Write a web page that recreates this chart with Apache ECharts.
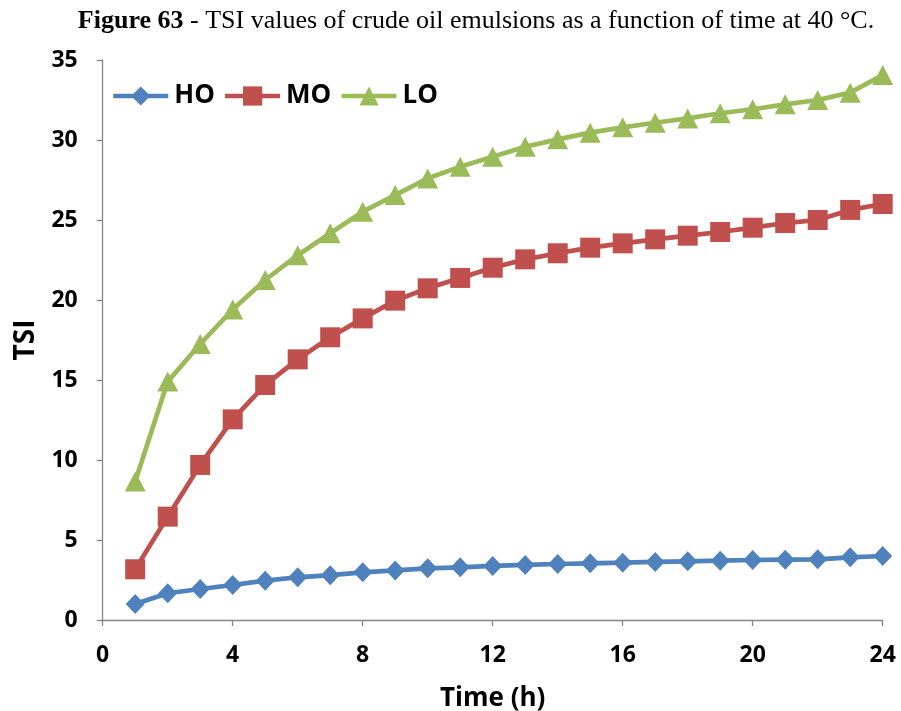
<!DOCTYPE html>
<html>
<head>
<meta charset="utf-8">
<script src="https://cdn.jsdelivr.net/npm/echarts@6/dist/echarts.min.js"></script>
<style>
  html, body { margin: 0; padding: 0; background: #fff; }
  #chart { width: 901px; height: 711px; }
</style>
</head>
<body>
<div id="chart"></div>
<script>
// Time in hours
const hours = [1, 2, 3, 4, 5, 6, 7, 8, 9, 10, 11, 12, 13, 14, 15, 16, 17, 18, 19, 20, 21, 22, 23, 24];
// TSI per emulsion
const tsiHO = [1.0, 1.67, 1.94, 2.19, 2.46, 2.67, 2.8, 2.98, 3.1, 3.23, 3.29, 3.38, 3.44, 3.5, 3.54, 3.58, 3.63, 3.67, 3.71, 3.75, 3.77, 3.79, 3.92, 4.0];
const tsiMO = [3.17, 6.46, 9.69, 12.54, 14.69, 16.29, 17.67, 18.85, 19.96, 20.73, 21.38, 22.02, 22.54, 22.92, 23.27, 23.54, 23.79, 24.02, 24.25, 24.52, 24.81, 25.0, 25.63, 26.0];
const tsiLO = [8.65, 14.9, 17.25, 19.4, 21.25, 22.8, 24.17, 25.52, 26.56, 27.6, 28.33, 28.95, 29.58, 30.04, 30.46, 30.79, 31.08, 31.35, 31.67, 31.92, 32.23, 32.5, 32.96, 34.06];
const xTicks = [0, 4, 8, 12, 16, 20, 24];
const yTicks = [0, 5, 10, 15, 20, 25, 30, 35];

const axisFont = '"Open Sans", "DejaVu Sans", sans-serif';
const serifFont = '"Liberation Serif", "Times New Roman", serif';
const axisGray = '#868686';

function pairs(ys) { return hours.map((h, i) => [h, ys[i]]); }

const chart = echarts.init(document.getElementById('chart'), null, { renderer: 'canvas' });

chart.setOption({
  animation: false,
  backgroundColor: '#ffffff',
  title: {
    text: '{b|Figure 63} - TSI values of crude oil emulsions as a function of time at 40 °C.',
    left: 471,
    textAlign: 'center',
    top: 3,
    textStyle: {
      fontFamily: serifFont,
      fontSize: 26,
      fontWeight: 'normal',
      color: '#000',
      rich: {
        b: { fontFamily: serifFont, fontSize: 26, fontWeight: 'bold', color: '#000' }
      }
    }
  },
  legend: {
    left: 106,
    top: 78,
    itemWidth: 55,
    itemHeight: 24,
    itemGap: 8,
    lineStyle: { width: 4.5 },
    textStyle: {
      fontFamily: axisFont,
      fontSize: 26,
      fontWeight: 'bold',
      color: '#000',
      padding: [0, 0, 0, 1]
    },
    data: ['HO', 'MO', 'LO']
  },
  grid: {
    left: 102.7, right: 18.3, top: 60, bottom: 91,
    containLabel: false,
    outerBoundsMode: 'none'
  },
  xAxis: {
    type: 'value',
    min: xTicks[0],
    max: xTicks[xTicks.length - 1],
    interval: 4,
    name: 'Time (h)',
    nameLocation: 'middle',
    nameGap: 66,
    nameTextStyle: { fontFamily: axisFont, fontSize: 26, fontWeight: 'bold', color: '#000' },
    axisLine: { lineStyle: { color: axisGray, width: 1.3 } },
    axisTick: { show: true, inside: false, length: 6, lineStyle: { color: axisGray, width: 1.3 } },
    axisLabel: {
      fontFamily: axisFont, fontSize: 23, fontWeight: 'bold', color: '#000', margin: 24,
      formatter: v => (xTicks.indexOf(v) >= 0 ? String(v) : '')
    },
    splitLine: { show: false }
  },
  yAxis: {
    type: 'value',
    min: yTicks[0],
    max: yTicks[yTicks.length - 1],
    interval: 5,
    name: 'TSI',
    nameLocation: 'middle',
    nameGap: 62,
    nameRotate: 90,
    nameTextStyle: { fontFamily: axisFont, fontSize: 28, fontWeight: 'bold', color: '#000' },
    axisLine: { show: true, lineStyle: { color: axisGray, width: 1.3 } },
    axisTick: { show: true, inside: false, length: 6, lineStyle: { color: axisGray, width: 1.3 } },
    axisLabel: {
      fontFamily: axisFont, fontSize: 23, fontWeight: 'bold', color: '#000', margin: 25,
      formatter: v => (yTicks.indexOf(v) >= 0 ? String(v) : '')
    },
    splitLine: { show: false }
  },
  series: [
    {
      name: 'HO', type: 'line', data: pairs(tsiHO),
      symbol: 'diamond', symbolSize: [19, 20],
      color: '#4F81BD',
      lineStyle: { width: 4.7, color: '#4F81BD' },
      itemStyle: { color: '#4F81BD' }
    },
    {
      name: 'MO', type: 'line', data: pairs(tsiMO),
      symbol: 'rect', symbolSize: [20, 20],
      color: '#C0504D',
      lineStyle: { width: 4.7, color: '#C0504D' },
      itemStyle: { color: '#C0504D' }
    },
    {
      name: 'LO', type: 'line', data: pairs(tsiLO),
      symbol: 'triangle', symbolSize: [21, 20],
      color: '#9BBB59',
      lineStyle: { width: 4.7, color: '#9BBB59' },
      itemStyle: { color: '#9BBB59' }
    }
  ]
});
</script>
</body>
</html>
